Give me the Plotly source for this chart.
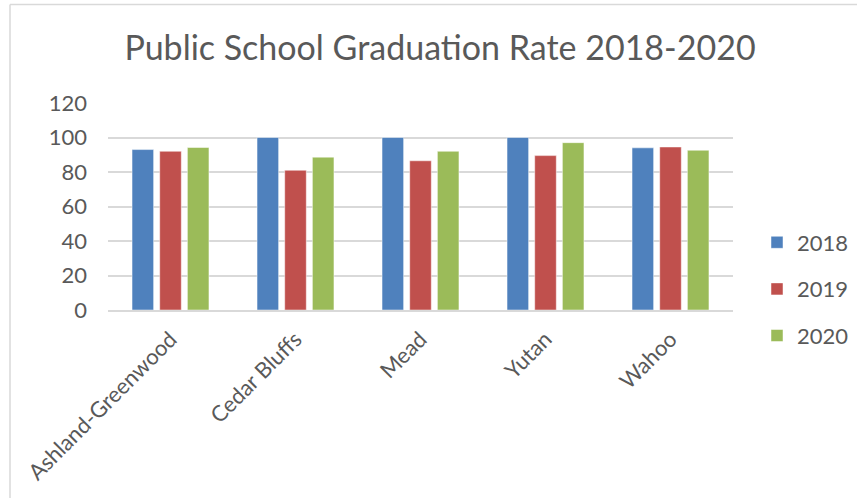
import plotly.graph_objects as go

schools = ["Ashland-Greenwood", "Cedar Bluffs", "Mead", "Yutan", "Wahoo"]
rate_2018 = [93, 100, 100, 100, 94]
rate_2019 = [92, 81, 86.5, 89.5, 94.5]
rate_2020 = [94.2, 88.6, 92, 97, 92.6]
series_names = ["2018", "2019", "2020"]
colors = ["#4F81BD", "#C0504D", "#9BBB59"]

W, H = 857, 498
L, R, T, B = 108, 733, 103, 310

fig = go.Figure()
for i, (name, vals) in enumerate(zip(series_names, [rate_2018, rate_2019, rate_2020])):
    fig.add_trace(go.Bar(
        x=schools, y=vals, name=name, legendgroup=name,
        marker=dict(color=colors[i], line=dict(color="rgba(255,255,255,0.6)", width=0.8)),
    ))

def px_x(p):
    return (p - L) / (R - L)

def px_y(p):
    return (B - p) / (B - T)

font_family = "Lato, Carlito, Calibri, sans-serif"
gray = "#595959"

fig.update_layout(
    width=W, height=H,
    margin=dict(l=L, r=W - R, t=T, b=H - B, pad=0, autoexpand=False),
    paper_bgcolor="white", plot_bgcolor="white",
    barmode="group", bargap=0.336, bargroupgap=0.22,
    font=dict(family=font_family, color=gray),
    title=dict(text="Public School Graduation Rate 2018-2020",
               font=dict(size=34, color=gray, family=font_family),
               x=440 / W, xanchor="center", xref="container",
               y=1 - 48 / H, yanchor="middle", yref="container"),
    xaxis=dict(showgrid=False, showline=True, linecolor="#d9d9d9", linewidth=1.5,
               tickangle=-45, tickfont=dict(size=22, color=gray), ticks="",
               ticklabelstandoff=6, automargin=False),
    yaxis=dict(range=[0, 120], dtick=20, showgrid=True, gridcolor="#d9d9d9", gridwidth=1.5,
               zeroline=False, showline=False, ticks="", automargin=False,
               tickfont=dict(size=22, color=gray), ticklabelstandoff=20),
    legend=dict(x=px_x(757), y=px_y(289), yanchor="middle", xanchor="left",
                font=dict(size=22, color=gray), traceorder="grouped",
                tracegroupgap=15, itemwidth=30, bgcolor="rgba(0,0,0,0)"),
    shapes=[
        dict(type="line", xref="paper", yref="paper",
             x0=px_x(10), x1=px_x(W + 5), y0=px_y(4.5), y1=px_y(4.5),
             line=dict(color="#d9d9d9", width=1.5)),
        dict(type="line", xref="paper", yref="paper",
             x0=px_x(10), x1=px_x(10), y0=px_y(4.5), y1=px_y(H + 5),
             line=dict(color="#d9d9d9", width=1.5)),
    ],
)

fig.write_html("out.html", config={"displayModeBar": False},
               post_script="document.body.style.margin='0';document.body.style.overflow='hidden';")
